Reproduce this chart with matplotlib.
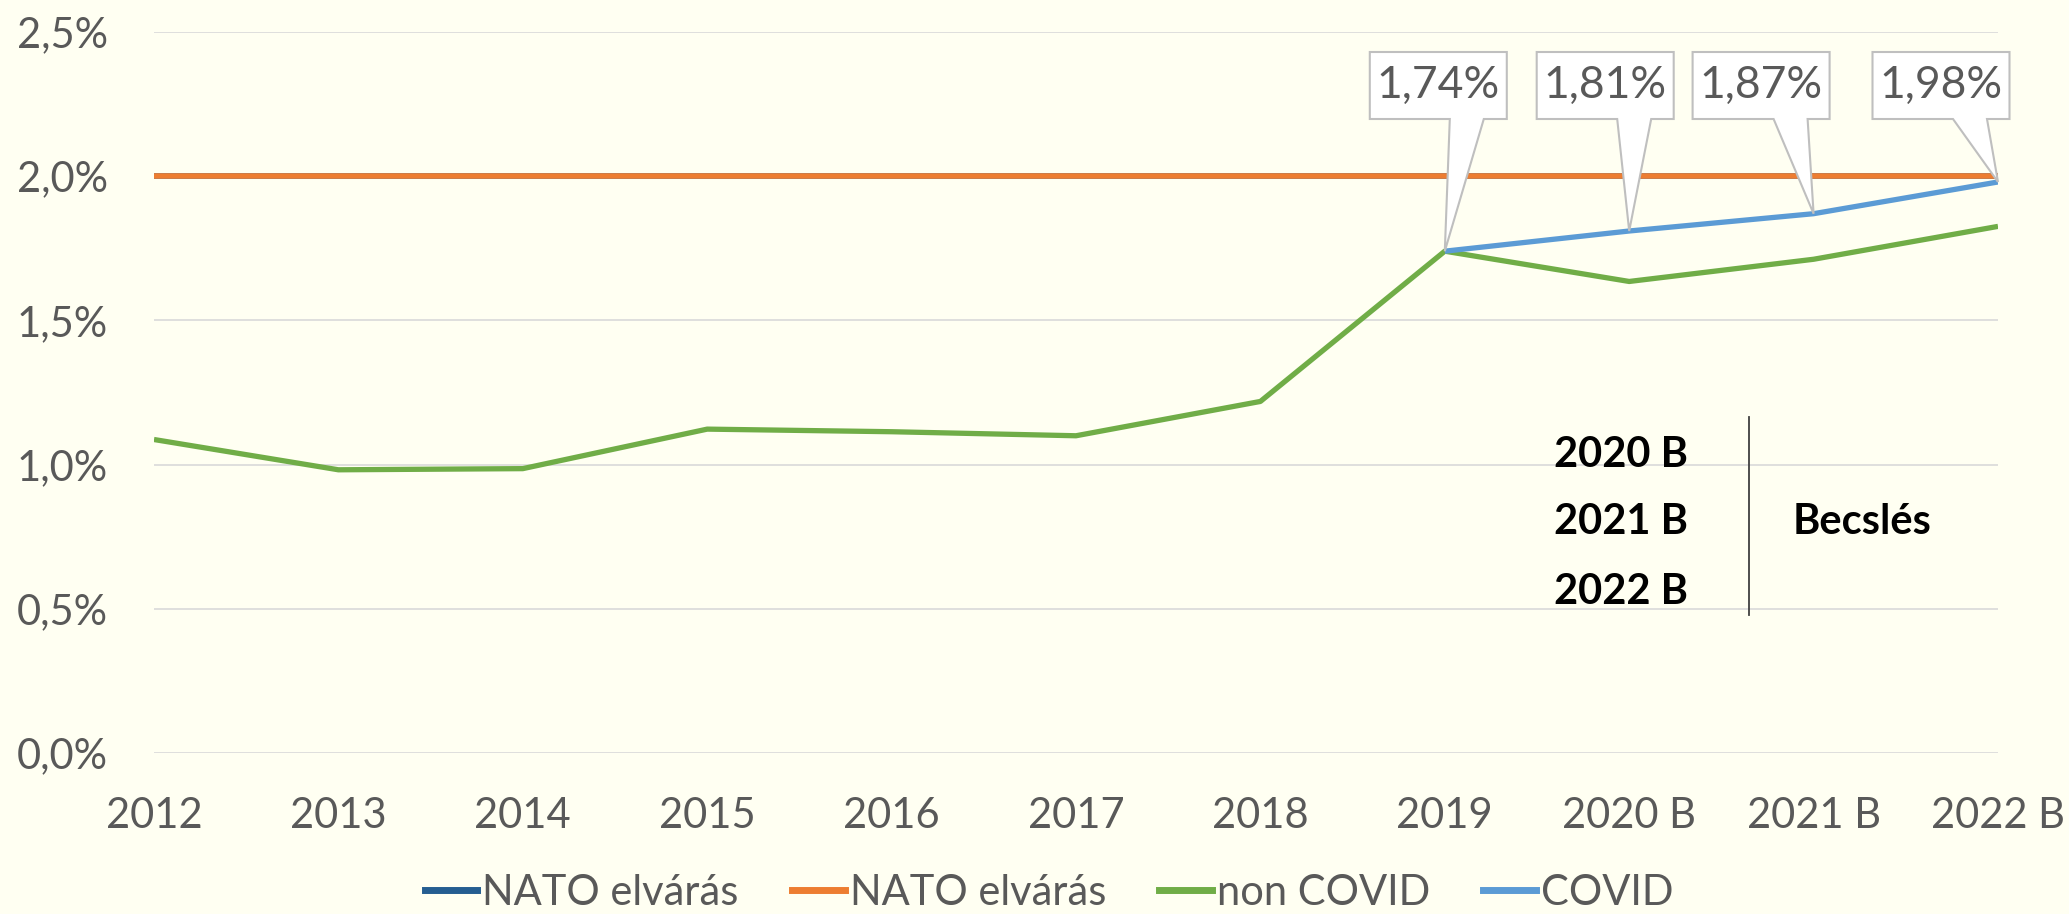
import matplotlib
matplotlib.use('Agg')
import numpy as np
from matplotlib import pyplot as plt
from matplotlib.patches import Polygon
from matplotlib.lines import Line2D

plt.rcParams['font.family'] = ['Lato', 'DejaVu Sans']

years = ['2012', '2013', '2014', '2015', '2016', '2017', '2018', '2019', '2020 B', '2021 B', '2022 B']
nato_1 = [2.0] * 11
nato_2 = [2.0] * 11
non_covid = [1.087, 0.982, 0.986, 1.123, 1.114, 1.100, 1.219, 1.74, 1.635, 1.712, 1.826]
covid = [np.nan] * 7 + [1.74, 1.81, 1.87, 1.98]
callout_labels = ['1,74%', '1,81%', '1,87%', '1,98%']

BG = '#FFFFF2'
TXT = '#595959'
C_NATO1 = '#255E91'
C_NATO2 = '#ED7D31'
C_GREEN = '#70AD47'
C_BLUE = '#5B9BD5'

W, H = 2069, 914
fig = plt.figure(figsize=(W / 100, H / 100), dpi=100, facecolor=BG)
ax = fig.add_axes([154 / W, 1 - 753 / H, (1998 - 154) / W, (753 - 32) / H])
ax.set_facecolor(BG)

x = np.arange(len(years))
ax.plot(x, nato_1, color=C_NATO1, lw=4.0, solid_capstyle='butt', zorder=3)
ax.plot(x, nato_2, color=C_NATO2, lw=4.0, solid_capstyle='butt', zorder=3)
ax.plot(x, non_covid, color=C_GREEN, lw=3.8, solid_capstyle='butt', zorder=4)
ax.plot(x, covid, color=C_BLUE, lw=3.8, solid_capstyle='butt', zorder=5)

ax.set_xlim(0, len(years) - 1)
ax.set_ylim(0, 2.5)
ax.set_yticks(np.arange(0, 2.51, 0.5))
ax.set_yticklabels([f'{v:.1f}%'.replace('.', ',') for v in np.arange(0, 2.51, 0.5)])
ax.set_xticks(x)
ax.set_xticklabels(years)
ax.tick_params(axis='both', length=0, labelsize=30, colors=TXT)
ax.tick_params(axis='y', pad=33)
ax.tick_params(axis='x', pad=32)
ax.grid(axis='y', color='#D9D9D9', lw=1.2, zorder=0)
ax.set_axisbelow(True)
for s in ax.spines.values():
    s.set_visible(False)

# callouts (pixel offsets relative to the data point)
box_dx = [-6.5, -24, -52.5, -57]
base_dx = [(5, 39), (-12, 22), (-40, -6), (-45, -11)]
box_w, box_bot, box_top = 137, H - 119, H - 52
for k, lab in enumerate(callout_labels):
    i = 7 + k
    tx, ty = ax.transData.transform((x[i], covid[i]))
    cx = tx + box_dx[k]
    l, r = cx - box_w / 2, cx + box_w / 2
    b1, b2 = tx + base_dx[k][0], tx + base_dx[k][1]
    verts = [(l, box_bot), (b1, box_bot), (tx, ty), (b2, box_bot), (r, box_bot), (r, box_top), (l, box_top)]
    poly = Polygon(verts, closed=True, facecolor='white', edgecolor='#BFBFBF', lw=1.5,
                   transform=None, zorder=10)
    fig.add_artist(poly)
    fig.text(cx / W, (box_bot + box_top) / 2 / H, lab, ha='center', va='center',
             fontsize=32, color=TXT, zorder=11)

# estimate note
for lab, yy in zip(['2020 B', '2021 B', '2022 B'], [455, 522, 592]):
    fig.text(1688 / W, 1 - yy / H, lab, ha='right', va='center', fontsize=30,
             fontweight='bold', color='black')
fig.add_artist(Line2D([1749 / W, 1749 / W], [1 - 417 / H, 1 - 615 / H], color='#404040', lw=1.3))
fig.text(1793 / W, 1 - 522 / H, 'Becslés', ha='left', va='center', fontsize=30,
         fontweight='bold', color='black')

handles = [Line2D([], [], color=c, lw=5) for c in (C_NATO1, C_NATO2, C_GREEN, C_BLUE)]
leg = fig.legend(handles, ['NATO elvárás', 'NATO elvárás', 'non COVID', 'COVID'],
                 loc='center', bbox_to_anchor=(1049 / W, 1 - 893 / H), ncol=4, frameon=False,
                 fontsize=30, handlelength=1.27, handletextpad=0.12, columnspacing=1.27,
                 borderaxespad=0)
for t in leg.get_texts():
    t.set_color(TXT)

fig.savefig('out.png', dpi=100, facecolor=BG)
